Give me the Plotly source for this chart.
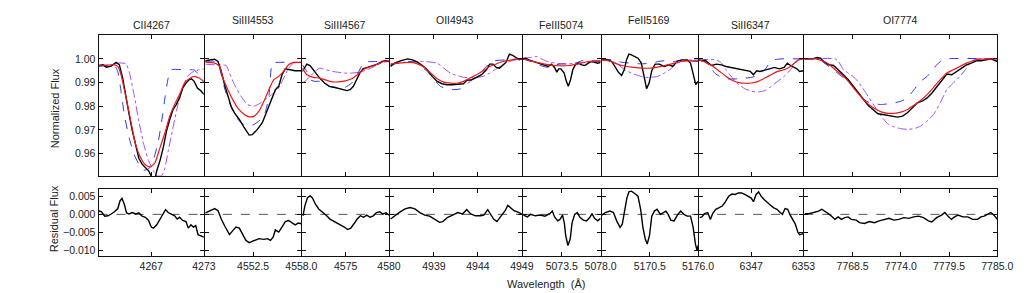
import plotly.graph_objects as go

# ---------------- data ----------------
panel_names = ["CII4267", "SiIII4553", "SiIII4567", "OII4943",
               "FeIII5074", "FeII5169", "SiII6347", "OI7774"]
x_ranges = [[4261, 4273], [4547, 4558], [4570, 4580], [4934, 4949],
            [5069, 5078], [5165, 5176], [6341, 6353], [7763, 7785]]
tick_vals = [[4261, 4267, 4273], [4547, 4552.5, 4558], [4570, 4575, 4580],
             [4934, 4939, 4944, 4949], [5069, 5073.5, 5078], [5165, 5170.5, 5176],
             [6341, 6347, 6353], [7763, 7768.5, 7774, 7779.5, 7785]]
tick_text = [["", "4267", "4273"], ["", "4552.5", "4558.0"], ["", "4575", "4580"],
             ["", "4939", "4944", "4949"], ["", "5073.5", "5078.0"], ["", "5170.5", "5176.0"],
             ["", "6347", "6353"], ["", "7768.5", "7774.0", "7779.5", "7785.0"]]
flux_ticks = [0.96, 0.97, 0.98, 0.99, 1.00]
flux_tick_text = ["0.96", "0.97", "0.98", "0.99", "1.00"]
resid_ticks = [-0.010, -0.005, 0.0, 0.005]
resid_tick_text = ["\u22120.010", "\u22120.005", "0.000", "0.005"]
flux_range = [0.9505, 1.0101]
resid_range = [-0.0115, 0.0070]

# --- CII4267 ---
CII4267_obs = [(4261.00, 0.9972), (4261.52, 0.9975), (4261.89, 0.9965), (4262.44, 0.9970), (4263.00, 0.9985),
               (4263.37, 0.9975), (4263.74, 0.9920), (4264.11, 0.9835), (4264.48, 0.9765), (4264.85, 0.9695),
               (4265.22, 0.9630), (4265.59, 0.9580), (4265.96, 0.9555), (4266.33, 0.9540), (4266.70, 0.9527),
               (4267.07, 0.9500), (4267.44, 0.9495), (4267.63, 0.9527), (4268.00, 0.9570), (4268.37, 0.9625),
               (4268.74, 0.9695), (4269.11, 0.9744), (4269.48, 0.9786), (4269.85, 0.9807), (4270.22, 0.9835),
               (4270.59, 0.9877), (4270.96, 0.9898), (4271.33, 0.9912), (4271.59, 0.9916), (4271.89, 0.9905),
               (4272.26, 0.9877), (4272.63, 0.9866), (4273.00, 0.9850)]
CII4267_fit = [(4261.00, 0.9972), (4262.81, 0.9975), (4263.19, 0.9968), (4263.56, 0.9933), (4264.11, 0.9840),
               (4264.67, 0.9737), (4265.22, 0.9639), (4265.78, 0.9583), (4266.33, 0.9552), (4266.89, 0.9543),
               (4267.44, 0.9562), (4268.00, 0.9625), (4268.56, 0.9688), (4269.11, 0.9758), (4269.67, 0.9807),
               (4270.22, 0.9849), (4270.78, 0.9898), (4271.33, 0.9916), (4271.89, 0.9926), (4272.44, 0.9919),
               (4273.00, 0.9905)]
CII4267_m1 = [(4261.00, 0.9968), (4262.81, 0.9972), (4263.19, 0.9947), (4263.56, 0.9863), (4263.93, 0.9765),
              (4264.48, 0.9667), (4265.04, 0.9597), (4265.59, 0.9555), (4266.15, 0.9530), (4266.70, 0.9535),
              (4267.26, 0.9575), (4267.81, 0.9653), (4268.19, 0.9737), (4268.56, 0.9835), (4268.93, 0.9919),
              (4269.30, 0.9954), (4270.78, 0.9954), (4271.89, 0.9953), (4272.44, 0.9933), (4273.00, 0.9898)]
CII4267_m2 = [(4261.00, 0.9972), (4262.63, 0.9975), (4263.00, 0.9982), (4264.11, 0.9980), (4264.48, 0.9947),
              (4265.04, 0.9849), (4265.59, 0.9737), (4266.15, 0.9639), (4266.70, 0.9569), (4267.26, 0.9527),
              (4267.63, 0.9506), (4268.19, 0.9506), (4268.56, 0.9540), (4268.93, 0.9610), (4269.48, 0.9709),
              (4270.04, 0.9807), (4270.59, 0.9877), (4271.11, 0.9926), (4271.70, 0.9944), (4272.44, 0.9954),
              (4273.00, 0.9958)]
CII4267_res = [(4261.00, 0.0010), (4261.33, 0.0007), (4261.70, -0.0005), (4262.07, -0.0004), (4262.44, 0.0001),
               (4262.81, 0.0007), (4263.19, 0.0016), (4263.44, 0.0037), (4263.67, 0.0044), (4263.93, 0.0028),
               (4264.19, 0.0004), (4264.48, 0.0001), (4264.85, 0.0005), (4265.22, 0.0001), (4265.59, 0.0004),
               (4265.96, -0.0005), (4266.33, -0.0008), (4266.70, -0.0017), (4267.00, -0.0035), (4267.26, -0.0038),
               (4267.63, -0.0029), (4268.00, -0.0013), (4268.37, 0.0004), (4268.63, 0.0013), (4268.93, 0.0005),
               (4269.30, 0.0001), (4269.67, -0.0004), (4269.96, -0.0013), (4270.22, -0.0008), (4270.59, -0.0017),
               (4270.96, -0.0020), (4271.22, -0.0038), (4271.52, -0.0029), (4271.81, -0.0035), (4272.07, -0.0031),
               (4272.33, -0.0056), (4272.63, -0.0060), (4273.00, -0.0063)]

# --- SiIII4553 ---
SiIII4553_obs = [(4547.07, 0.9992), (4547.56, 0.9994), (4548.12, 0.9999), (4548.50, 0.9989), (4548.87, 0.9947),
                 (4549.24, 0.9891), (4549.62, 0.9842), (4549.99, 0.9800), (4550.37, 0.9772), (4550.93, 0.9744),
                 (4551.49, 0.9709), (4552.05, 0.9678), (4552.42, 0.9680), (4552.99, 0.9702), (4553.55, 0.9730),
                 (4553.92, 0.9765), (4554.30, 0.9800), (4554.67, 0.9842), (4555.04, 0.9870), (4555.42, 0.9884),
                 (4555.79, 0.9933), (4556.17, 0.9958), (4556.73, 0.9954), (4557.29, 0.9950), (4558.00, 0.9950)]
SiIII4553_fit = [(4547.07, 0.9986), (4548.12, 0.9982), (4548.68, 0.9968), (4549.06, 0.9919), (4549.62, 0.9870),
                 (4550.18, 0.9828), (4550.74, 0.9793), (4551.49, 0.9765), (4552.05, 0.9755), (4552.61, 0.9758),
                 (4553.17, 0.9779), (4553.73, 0.9821), (4554.30, 0.9870), (4554.86, 0.9912), (4555.42, 0.9926),
                 (4555.98, 0.9947), (4556.54, 0.9975), (4557.10, 0.9985), (4558.00, 0.9985)]
SiIII4553_m1 = [(4547.07, 0.9990), (4548.31, 0.9989), (4548.68, 0.9960), (4549.24, 0.9877), (4549.81, 0.9814),
                (4550.37, 0.9765), (4551.12, 0.9730), (4551.86, 0.9716), (4552.61, 0.9723), (4553.36, 0.9744),
                (4553.92, 0.9779), (4554.30, 0.9842), (4554.67, 0.9982), (4555.04, 0.9985), (4558.00, 0.9985)]
SiIII4553_m2 = [(4547.07, 0.9978), (4548.12, 0.9975), (4549.43, 0.9972), (4549.81, 0.9940), (4550.37, 0.9891),
                (4551.12, 0.9842), (4551.86, 0.9807), (4552.61, 0.9800), (4553.36, 0.9814), (4554.11, 0.9835),
                (4554.86, 0.9856), (4555.42, 0.9877), (4555.98, 0.9919), (4556.54, 0.9960), (4557.10, 0.9982),
                (4558.00, 0.9986)]
SiIII4553_res = [(4547.07, 0.0004), (4547.56, 0.0010), (4548.12, 0.0016), (4548.50, 0.0010), (4548.87, -0.0013),
                 (4549.32, -0.0035), (4549.81, -0.0056), (4550.18, -0.0045), (4550.55, -0.0035), (4550.93, -0.0038),
                 (4551.30, -0.0054), (4551.68, -0.0072), (4552.05, -0.0078), (4552.61, -0.0072), (4553.17, -0.0067),
                 (4553.73, -0.0069), (4554.11, -0.0067), (4554.48, -0.0072), (4554.78, -0.0063), (4555.04, -0.0043),
                 (4555.42, -0.0049), (4555.79, -0.0035), (4556.17, -0.0020), (4556.54, -0.0017), (4556.91, -0.0024),
                 (4557.29, -0.0029), (4557.66, -0.0024), (4558.00, -0.0026)]

# --- SiIII4567 ---
SiIII4567_obs = [(4570.00, 0.9947), (4570.52, 0.9978), (4570.89, 0.9972), (4571.26, 0.9954), (4571.63, 0.9936),
                 (4572.00, 0.9919), (4572.56, 0.9898), (4573.11, 0.9884), (4573.67, 0.9880), (4574.22, 0.9874),
                 (4574.78, 0.9870), (4575.15, 0.9866), (4575.52, 0.9870), (4575.89, 0.9884), (4576.26, 0.9912),
                 (4576.63, 0.9940), (4577.00, 0.9958), (4577.56, 0.9964), (4578.11, 0.9972), (4578.67, 0.9978),
                 (4579.22, 0.9989), (4579.59, 0.9992), (4580.00, 0.9989)]
SiIII4567_fit = [(4570.00, 0.9961), (4570.52, 0.9933), (4571.26, 0.9922), (4572.00, 0.9919), (4572.74, 0.9910),
                 (4573.48, 0.9903), (4574.22, 0.9903), (4574.96, 0.9907), (4575.70, 0.9916), (4576.44, 0.9936),
                 (4577.19, 0.9958), (4577.93, 0.9968), (4578.67, 0.9978), (4579.41, 0.9989), (4580.00, 0.9992)]
SiIII4567_m1 = [(4570.00, 0.9975), (4570.52, 0.9947), (4570.89, 0.9912), (4571.44, 0.9905), (4572.00, 0.9905),
                (4572.74, 0.9890), (4573.48, 0.9880), (4574.22, 0.9877), (4574.96, 0.9880), (4575.70, 0.9898),
                (4576.26, 0.9926), (4576.81, 0.9968), (4577.19, 0.9986), (4578.30, 0.9989), (4580.00, 0.9989)]
SiIII4567_m2 = [(4570.00, 0.9898), (4570.52, 0.9912), (4571.26, 0.9940), (4572.00, 0.9961), (4572.74, 0.9954),
                (4573.48, 0.9947), (4574.22, 0.9943), (4574.96, 0.9940), (4575.70, 0.9940), (4576.44, 0.9943),
                (4577.19, 0.9950), (4577.93, 0.9961), (4578.67, 0.9975), (4579.41, 0.9986), (4580.00, 0.9989)]
SiIII4567_res = [(4570.07, -0.0004), (4570.30, 0.0024), (4570.59, 0.0046), (4570.89, 0.0051), (4571.15, 0.0046),
                 (4571.52, 0.0028), (4571.89, 0.0015), (4572.44, 0.0005), (4572.81, -0.0004), (4573.19, -0.0013),
                 (4573.74, -0.0020), (4574.30, -0.0029), (4574.85, -0.0035), (4575.22, -0.0042), (4575.59, -0.0038),
                 (4575.96, -0.0026), (4576.33, -0.0013), (4576.70, -0.0004), (4577.07, -0.0008), (4577.44, -0.0002),
                 (4577.81, -0.0008), (4578.19, -0.0004), (4578.56, 0.0005), (4578.93, 0.0007), (4579.30, 0.0001),
                 (4579.67, 0.0004), (4580.00, -0.0002)]

# --- OII4943 ---
OII4943_obs = [(4934.07, 0.9968), (4934.52, 0.9982), (4935.27, 0.9993), (4936.01, 1.0000), (4936.57, 0.9996),
               (4937.13, 0.9986), (4937.69, 0.9972), (4938.25, 0.9954), (4938.81, 0.9926), (4939.37, 0.9905),
               (4939.93, 0.9895), (4940.49, 0.9891), (4941.05, 0.9891), (4941.61, 0.9893), (4942.36, 0.9895),
               (4942.73, 0.9909), (4943.29, 0.9912), (4943.85, 0.9922), (4944.41, 0.9933), (4944.97, 0.9954),
               (4945.34, 0.9978), (4945.72, 0.9978), (4946.09, 0.9964), (4946.46, 0.9961), (4946.84, 0.9975),
               (4947.21, 0.9986), (4947.58, 1.0020), (4947.96, 1.0015), (4948.33, 1.0006), (4948.70, 0.9996),
               (4949.00, 1.0000)]
OII4943_fit = [(4934.07, 0.9978), (4934.90, 0.9982), (4936.39, 0.9985), (4937.13, 0.9979), (4937.88, 0.9965),
               (4938.63, 0.9940), (4939.37, 0.9916), (4940.12, 0.9902), (4940.87, 0.9898), (4941.61, 0.9897),
               (4942.36, 0.9905), (4943.10, 0.9919), (4943.85, 0.9933), (4944.60, 0.9950), (4945.34, 0.9968),
               (4946.09, 0.9979), (4946.84, 0.9989), (4947.58, 0.9994), (4948.33, 0.9999), (4949.00, 1.0000)]
OII4943_m1 = [(4934.07, 0.9975), (4934.90, 0.9982), (4936.01, 0.9989), (4936.76, 0.9986), (4937.51, 0.9968),
              (4938.25, 0.9947), (4939.00, 0.9912), (4939.75, 0.9884), (4940.49, 0.9873), (4941.24, 0.9870),
              (4941.99, 0.9873), (4942.54, 0.9884), (4943.10, 0.9905), (4943.85, 0.9926), (4944.60, 0.9954),
              (4945.34, 0.9982), (4945.90, 0.9992), (4947.21, 0.9996), (4949.00, 1.0000)]
OII4943_m2 = [(4934.07, 0.9978), (4934.90, 0.9982), (4936.39, 0.9989), (4937.88, 0.9989), (4939.37, 0.9982),
              (4940.12, 0.9961), (4940.87, 0.9940), (4941.61, 0.9930), (4942.36, 0.9922), (4943.85, 0.9922),
              (4944.60, 0.9926), (4945.34, 0.9940), (4946.09, 0.9958), (4946.84, 0.9975), (4947.58, 0.9989),
              (4948.33, 0.9996), (4949.00, 1.0000)]
OII4943_res = [(4934.07, -0.0013), (4934.60, -0.0002), (4935.16, 0.0007), (4935.72, 0.0015), (4936.28, 0.0019),
               (4936.84, 0.0015), (4937.40, 0.0005), (4937.96, -0.0002), (4938.51, -0.0005), (4939.07, -0.0013),
               (4939.63, -0.0022), (4940.01, -0.0020), (4940.57, -0.0008), (4941.13, -0.0002), (4941.69, 0.0005),
               (4942.25, 0.0001), (4942.73, 0.0013), (4943.18, 0.0001), (4943.74, -0.0004), (4944.30, -0.0004),
               (4944.67, -0.0002), (4945.12, 0.0013), (4945.42, 0.0001), (4945.79, -0.0013), (4946.16, -0.0020),
               (4946.61, -0.0005), (4947.10, 0.0010), (4947.40, 0.0025), (4947.73, 0.0019), (4948.10, 0.0010),
               (4948.48, 0.0007), (4949.00, 0.0001)]

# --- FeIII5074 ---
FeIII5074_obs = [(5069.00, 1.0000), (5069.33, 1.0003), (5069.70, 0.9996), (5070.26, 0.9989), (5070.81, 0.9982),
                 (5071.37, 0.9975), (5071.93, 0.9968), (5072.30, 0.9978), (5072.67, 0.9964), (5072.93, 0.9944),
                 (5073.15, 0.9958), (5073.41, 0.9958), (5073.78, 0.9940), (5074.04, 0.9905), (5074.26, 0.9884),
                 (5074.52, 0.9912), (5074.78, 0.9954), (5075.07, 0.9975), (5075.44, 0.9982), (5075.81, 0.9975),
                 (5076.19, 0.9972), (5076.56, 0.9982), (5076.93, 0.9989), (5077.30, 0.9986), (5077.67, 0.9982),
                 (5078.00, 0.9985)]
FeIII5074_fit = [(5069.00, 1.0000), (5069.89, 0.9992), (5071.00, 0.9982), (5072.11, 0.9975), (5073.22, 0.9971),
                 (5074.33, 0.9972), (5075.44, 0.9979), (5076.56, 0.9989), (5078.00, 0.9992)]
FeIII5074_m1 = [(5069.00, 1.0000), (5069.89, 0.9989), (5070.63, 0.9978), (5071.37, 0.9968), (5072.11, 0.9964),
                (5072.85, 0.9975), (5073.59, 0.9979), (5074.33, 0.9978), (5075.07, 0.9982), (5075.81, 0.9992),
                (5076.56, 0.9996), (5077.30, 0.9992), (5078.00, 0.9989)]
FeIII5074_m2 = [(5069.00, 1.0003), (5069.89, 1.0006), (5070.63, 1.0010), (5071.37, 0.9996), (5072.11, 0.9986),
                (5072.85, 0.9982), (5073.59, 0.9979), (5074.33, 0.9979), (5075.07, 0.9982), (5075.81, 0.9985),
                (5076.56, 0.9989), (5077.30, 0.9992), (5078.00, 0.9992)]
FeIII5074_res = [(5069.07, -0.0002), (5069.52, -0.0007), (5069.89, 0.0000), (5070.44, -0.0004), (5071.00, -0.0002),
                 (5071.56, -0.0005), (5072.11, 0.0002), (5072.41, 0.0009), (5072.67, -0.0007), (5073.04, -0.0018),
                 (5073.30, -0.0014), (5073.59, -0.0002), (5073.81, -0.0025), (5073.96, -0.0059), (5074.22, -0.0086),
                 (5074.48, -0.0068), (5074.70, -0.0023), (5075.00, 0.0000), (5075.30, 0.0005), (5075.63, -0.0009),
                 (5076.00, -0.0016), (5076.37, -0.0018), (5076.74, -0.0009), (5077.00, 0.0002), (5077.30, -0.0011),
                 (5077.67, -0.0018), (5078.00, -0.0011)]

# --- FeII5169 ---
FeII5169_obs = [(5165.04, 0.9996), (5165.60, 0.9996), (5166.16, 0.9989), (5166.53, 0.9968), (5166.91, 0.9944),
                (5167.28, 0.9930), (5167.58, 0.9954), (5167.84, 0.9996), (5168.11, 1.0020), (5168.40, 1.0017),
                (5168.78, 1.0010), (5169.15, 1.0003), (5169.53, 0.9982), (5169.83, 0.9919), (5170.13, 0.9874),
                (5170.42, 0.9898), (5170.72, 0.9950), (5171.10, 0.9978), (5171.58, 0.9978), (5172.15, 0.9968),
                (5172.71, 0.9975), (5173.08, 0.9968), (5173.46, 0.9982), (5173.72, 0.9992), (5174.20, 0.9996),
                (5174.76, 0.9996), (5175.14, 0.9982), (5175.44, 0.9940), (5175.74, 0.9891), (5176.00, 0.9905)]
FeII5169_fit = [(5165.04, 0.9996), (5165.79, 0.9992), (5166.53, 0.9982), (5167.28, 0.9972), (5168.40, 0.9965),
                (5169.53, 0.9961), (5170.65, 0.9961), (5171.77, 0.9968), (5172.89, 0.9978), (5174.02, 0.9989),
                (5175.14, 0.9992), (5176.00, 0.9989)]
FeII5169_m1 = [(5165.04, 1.0000), (5166.16, 0.9996), (5167.28, 0.9986), (5168.40, 0.9982), (5169.53, 0.9979),
               (5170.65, 0.9982), (5171.40, 0.9989), (5172.15, 0.9992), (5172.89, 0.9986), (5173.64, 0.9992),
               (5174.39, 0.9996), (5175.14, 0.9992), (5176.00, 0.9992)]
FeII5169_m2 = [(5165.04, 1.0000), (5166.16, 0.9992), (5166.91, 0.9975), (5167.66, 0.9954), (5168.40, 0.9940),
               (5169.15, 0.9930), (5169.90, 0.9922), (5170.65, 0.9922), (5171.40, 0.9926), (5172.15, 0.9940),
               (5172.89, 0.9958), (5173.64, 0.9982), (5174.39, 0.9992), (5175.14, 0.9996), (5176.00, 1.0000)]
FeII5169_res = [(5165.04, -0.0002), (5165.41, 0.0005), (5165.97, 0.0009), (5166.35, 0.0005), (5166.72, -0.0018),
                (5167.10, -0.0036), (5167.36, -0.0027), (5167.66, 0.0014), (5167.88, 0.0045), (5168.11, 0.0062),
                (5168.40, 0.0064), (5168.70, 0.0059), (5169.15, 0.0050), (5169.45, 0.0014), (5169.71, -0.0036),
                (5169.98, -0.0068), (5170.20, -0.0082), (5170.46, -0.0059), (5170.72, -0.0005), (5171.02, 0.0009),
                (5171.32, 0.0014), (5171.70, 0.0000), (5172.07, 0.0005), (5172.33, 0.0009), (5172.59, 0.0000),
                (5172.89, -0.0016), (5173.27, -0.0018), (5173.64, -0.0002), (5174.01, 0.0009), (5174.39, 0.0000),
                (5174.76, -0.0005), (5175.14, -0.0005), (5175.44, -0.0036), (5175.70, -0.0082), (5175.89, -0.0100),
                (5176.00, -0.0086)]

# --- SiII6347 ---
SiII6347_obs = [(6341.00, 0.9996), (6341.33, 0.9992), (6341.70, 0.9994), (6342.07, 0.9982), (6342.44, 0.9972),
                (6343.00, 0.9978), (6343.56, 0.9975), (6344.11, 0.9968), (6344.67, 0.9964), (6345.22, 0.9958),
                (6345.78, 0.9954), (6346.33, 0.9950), (6346.89, 0.9947), (6347.26, 0.9933), (6347.63, 0.9950),
                (6348.00, 0.9947), (6348.56, 0.9954), (6349.11, 0.9958), (6349.67, 0.9964), (6350.22, 0.9958),
                (6350.78, 0.9964), (6351.15, 0.9982), (6351.52, 0.9972), (6351.89, 0.9964), (6352.26, 0.9958),
                (6352.56, 0.9947), (6353.00, 0.9950)]
SiII6347_fit = [(6341.00, 0.9996), (6341.52, 0.9989), (6342.07, 0.9978), (6342.63, 0.9968), (6343.37, 0.9947),
                (6344.11, 0.9926), (6344.85, 0.9909), (6345.59, 0.9900), (6346.33, 0.9897), (6347.07, 0.9898),
                (6347.81, 0.9905), (6348.56, 0.9919), (6349.30, 0.9933), (6350.04, 0.9947), (6350.78, 0.9954),
                (6351.52, 0.9968), (6352.07, 0.9986), (6352.44, 0.9996), (6353.00, 1.0000)]
SiII6347_m1 = [(6341.00, 0.9996), (6341.70, 0.9989), (6342.26, 0.9968), (6342.81, 0.9940), (6343.37, 0.9926),
               (6344.11, 0.9916), (6344.85, 0.9915), (6345.59, 0.9916), (6346.33, 0.9919), (6347.07, 0.9922),
               (6347.81, 0.9933), (6348.56, 0.9954), (6349.11, 0.9982), (6349.67, 0.9996), (6350.41, 1.0000),
               (6353.00, 1.0000)]
SiII6347_m2 = [(6341.00, 0.9996), (6343.00, 0.9996), (6343.56, 0.9982), (6344.11, 0.9954), (6344.85, 0.9919),
               (6345.59, 0.9890), (6346.33, 0.9873), (6347.07, 0.9863), (6347.81, 0.9860), (6348.56, 0.9866),
               (6349.30, 0.9884), (6350.04, 0.9905), (6350.78, 0.9926), (6351.52, 0.9954), (6352.07, 0.9982),
               (6352.44, 0.9996), (6353.00, 1.0000)]
SiII6347_res = [(6341.07, -0.0009), (6341.33, -0.0007), (6341.63, 0.0002), (6342.00, 0.0005), (6342.30, -0.0014),
                (6342.56, 0.0002), (6342.93, 0.0014), (6343.30, 0.0018), (6343.67, 0.0023), (6344.04, 0.0035),
                (6344.41, 0.0050), (6344.78, 0.0056), (6345.15, 0.0055), (6345.52, 0.0059), (6345.89, 0.0059),
                (6346.26, 0.0055), (6346.63, 0.0050), (6347.00, 0.0045), (6347.26, 0.0035), (6347.56, 0.0055),
                (6347.85, 0.0062), (6348.15, 0.0050), (6348.48, 0.0041), (6348.85, 0.0032), (6349.22, 0.0025),
                (6349.59, 0.0018), (6349.96, 0.0014), (6350.33, 0.0005), (6350.59, 0.0000), (6350.89, 0.0016),
                (6351.19, 0.0014), (6351.44, 0.0000), (6351.81, -0.0018), (6352.07, -0.0027), (6352.37, -0.0050),
                (6352.56, -0.0056), (6353.00, -0.0053)]

# --- OI7774 ---
OI7774_obs = [(7763.00, 1.0000), (7763.90, 1.0000), (7764.46, 1.0006), (7764.83, 1.0003), (7765.21, 0.9989),
              (7765.77, 0.9975), (7766.33, 0.9972), (7766.89, 0.9954), (7767.45, 0.9933), (7768.01, 0.9912),
              (7768.57, 0.9884), (7769.14, 0.9856), (7769.70, 0.9828), (7770.26, 0.9804), (7770.82, 0.9786),
              (7771.38, 0.9768), (7771.94, 0.9765), (7772.50, 0.9761), (7773.06, 0.9758), (7773.62, 0.9754),
              (7774.19, 0.9758), (7774.75, 0.9772), (7775.31, 0.9793), (7775.87, 0.9814), (7776.43, 0.9821),
              (7776.99, 0.9835), (7777.55, 0.9856), (7778.11, 0.9884), (7778.68, 0.9912), (7779.24, 0.9936),
              (7779.80, 0.9933), (7780.36, 0.9947), (7780.92, 0.9961), (7781.48, 0.9975), (7782.04, 0.9982),
              (7782.60, 0.9992), (7783.16, 0.9992), (7783.73, 0.9996), (7784.29, 1.0000), (7785.00, 0.9989)]
OI7774_fit = [(7763.00, 1.0000), (7764.27, 1.0000), (7765.02, 0.9992), (7765.77, 0.9978), (7766.52, 0.9954),
              (7767.26, 0.9933), (7768.01, 0.9905), (7768.76, 0.9870), (7769.51, 0.9838), (7770.26, 0.9810),
              (7771.01, 0.9790), (7771.76, 0.9776), (7772.50, 0.9770), (7773.25, 0.9770), (7774.00, 0.9775),
              (7774.75, 0.9786), (7775.50, 0.9804), (7776.25, 0.9824), (7776.99, 0.9849), (7777.74, 0.9880),
              (7778.49, 0.9912), (7779.24, 0.9940), (7779.98, 0.9954), (7780.73, 0.9968), (7781.48, 0.9982),
              (7782.23, 0.9992), (7782.98, 0.9999), (7785.00, 1.0000)]
OI7774_m1 = [(7763.00, 1.0000), (7764.27, 1.0000), (7765.02, 0.9989), (7765.77, 0.9968), (7766.52, 0.9947),
             (7767.26, 0.9926), (7768.01, 0.9905), (7768.76, 0.9870), (7769.51, 0.9835), (7770.26, 0.9818),
             (7771.01, 0.9810), (7771.76, 0.9807), (7772.50, 0.9810), (7773.25, 0.9814), (7774.00, 0.9821),
             (7774.75, 0.9835), (7775.50, 0.9870), (7776.25, 0.9905), (7776.99, 0.9926), (7777.74, 0.9960),
             (7778.49, 0.9989), (7779.24, 1.0000), (7785.00, 1.0000)]
OI7774_m2 = [(7763.00, 1.0000), (7766.52, 1.0000), (7766.89, 0.9989), (7767.45, 0.9954), (7768.01, 0.9940),
             (7768.76, 0.9919), (7769.51, 0.9884), (7770.26, 0.9842), (7771.01, 0.9800), (7771.76, 0.9758),
             (7772.50, 0.9726), (7773.25, 0.9712), (7774.00, 0.9705), (7774.75, 0.9702), (7775.50, 0.9705),
             (7776.25, 0.9716), (7776.99, 0.9737), (7777.74, 0.9765), (7778.49, 0.9814), (7779.24, 0.9870),
             (7779.98, 0.9898), (7780.73, 0.9926), (7781.48, 0.9960), (7782.04, 0.9989), (7782.60, 0.9999),
             (7785.00, 1.0000)]
OI7774_res = [(7763.04, 0.0002), (7763.49, 0.0002), (7764.05, 0.0005), (7764.61, 0.0009), (7764.98, 0.0014),
              (7765.36, 0.0009), (7765.73, 0.0002), (7766.11, -0.0005), (7766.48, -0.0014), (7766.85, -0.0007),
              (7767.23, -0.0014), (7767.60, -0.0009), (7767.98, -0.0007), (7768.35, -0.0014), (7768.91, -0.0016),
              (7769.29, -0.0023), (7769.85, -0.0025), (7770.41, -0.0020), (7770.97, -0.0023), (7771.53, -0.0018),
              (7772.09, -0.0014), (7772.65, -0.0011), (7773.21, -0.0016), (7773.77, -0.0014), (7774.34, -0.0009),
              (7774.90, -0.0011), (7775.46, -0.0007), (7776.02, -0.0005), (7776.58, -0.0009), (7777.14, -0.0018),
              (7777.52, -0.0021), (7778.08, -0.0009), (7778.64, -0.0002), (7779.01, 0.0005), (7779.39, -0.0005),
              (7779.76, -0.0014), (7780.13, -0.0007), (7780.51, -0.0002), (7781.07, -0.0007), (7781.63, -0.0007),
              (7782.19, -0.0014), (7782.75, -0.0014), (7783.13, -0.0007), (7783.50, -0.0005), (7783.87, 0.0000),
              (7784.25, 0.0005), (7784.62, -0.0002), (7785.00, -0.0014)]

observed = [CII4267_obs, SiIII4553_obs, SiIII4567_obs, OII4943_obs,
            FeIII5074_obs, FeII5169_obs, SiII6347_obs, OI7774_obs]
best_fit = [CII4267_fit, SiIII4553_fit, SiIII4567_fit, OII4943_fit,
            FeIII5074_fit, FeII5169_fit, SiII6347_fit, OI7774_fit]
model_a = [CII4267_m1, SiIII4553_m1, SiIII4567_m1, OII4943_m1,
           FeIII5074_m1, FeII5169_m1, SiII6347_m1, OI7774_m1]
model_b = [CII4267_m2, SiIII4553_m2, SiIII4567_m2, OII4943_m2,
           FeIII5074_m2, FeII5169_m2, SiII6347_m2, OI7774_m2]
residuals = [CII4267_res, SiIII4553_res, SiIII4567_res, OII4943_res,
             FeIII5074_res, FeII5169_res, SiII6347_res, OI7774_res]

# ---------------- layout ----------------
W, H = 1026, 293
LEFT_PX, RIGHT_PX = 92, 1005
TOP_ROW = [1 - 168 / H, 1 - 27 / H]
BOT_ROW = [1 - 248 / H, 1 - 181 / H]
FONT = "Liberation Sans, Arial, sans-serif"
TXT = "#222222"

spans = [r[1] - r[0] for r in x_ranges]
px_per = (RIGHT_PX - LEFT_PX) / sum(spans)
edges = [LEFT_PX]
acc = 0
for s in spans:
    acc += s
    edges.append(round(LEFT_PX + acc * px_per))

fig = go.Figure()
layout = dict(width=W, height=H, autosize=False,
              margin=dict(l=0, r=0, t=0, b=0),
              paper_bgcolor="white", plot_bgcolor="white",
              showlegend=False, font=dict(family=FONT, size=10, color=TXT))

def axis_common():
    return dict(showgrid=False, zeroline=False, showline=True, mirror="ticks",
                linecolor="#111111", linewidth=1, ticks="inside", ticklen=4,
                tickcolor="#111111", tickwidth=1,
                tickfont=dict(family=FONT, size=10.5, color=TXT))

def xy(pairs):
    return [p[0] for p in pairs], [p[1] for p in pairs]

for i in range(8):
    # shift each panel after the first by one pixel so neighbouring frame lines coincide
    dom = [(edges[i] + (1 if i > 0 else 0)) / W, edges[i + 1] / W]
    top, bot = i + 1, i + 9
    tx = "x" if top == 1 else f"x{top}"
    ty = "y" if top == 1 else f"y{top}"
    bx, by = f"x{bot}", f"y{bot}"

    xa = axis_common()
    xa.update(domain=dom, range=x_ranges[i], tickmode="array",
              tickvals=tick_vals[i], ticktext=tick_text[i], showticklabels=False, anchor=ty)
    layout["xaxis" if top == 1 else f"xaxis{top}"] = xa
    ya = axis_common()
    ya.update(domain=TOP_ROW, range=flux_range, tickmode="array", tickvals=flux_ticks,
              ticktext=flux_tick_text, showticklabels=(i == 0), anchor=tx)
    layout["yaxis" if top == 1 else f"yaxis{top}"] = ya

    xb = axis_common()
    xb.update(domain=dom, range=x_ranges[i], tickmode="array",
              tickvals=tick_vals[i], ticktext=tick_text[i], showticklabels=True, anchor=by)
    layout[f"xaxis{bot}"] = xb
    yb = axis_common()
    yb.update(domain=BOT_ROW, range=resid_range, tickmode="array", tickvals=resid_ticks,
              ticktext=resid_tick_text, showticklabels=(i == 0), anchor=bx)
    layout[f"yaxis{bot}"] = yb

    x, y = xy(model_b[i])
    fig.add_trace(go.Scatter(x=x, y=y, xaxis=tx, yaxis=ty, mode="lines",
                             line=dict(color="#a04cf5", width=1, dash="dashdot", shape="spline", smoothing=0.5)))
    x, y = xy(model_a[i])
    fig.add_trace(go.Scatter(x=x, y=y, xaxis=tx, yaxis=ty, mode="lines",
                             line=dict(color="#2a35f0", width=1, dash="dash", shape="spline", smoothing=0.5)))
    x, y = xy(observed[i])
    fig.add_trace(go.Scatter(x=x, y=y, xaxis=tx, yaxis=ty, mode="lines",
                             line=dict(color="black", width=1.4)))
    x, y = xy(best_fit[i])
    fig.add_trace(go.Scatter(x=x, y=y, xaxis=tx, yaxis=ty, mode="lines",
                             line=dict(color="#f01818", width=1.2, shape="spline", smoothing=0.5)))

    fig.add_trace(go.Scatter(x=x_ranges[i], y=[0, 0], xaxis=bx, yaxis=by, mode="lines",
                             line=dict(color="#555555", width=1, dash="dash")))
    x, y = xy(residuals[i])
    fig.add_trace(go.Scatter(x=x, y=y, xaxis=bx, yaxis=by, mode="lines",
                             line=dict(color="black", width=1.4)))

# panel titles (alternating heights as in the original)
title_y = [17, 12, 17, 12, 17, 12, 17, 12]
annotations = []
for i, name in enumerate(panel_names):
    annotations.append(dict(text=name, xref="paper", yref="paper",
                            x=(edges[i] + edges[i + 1]) / 2 / W, y=1 - title_y[i] / H,
                            xanchor="center", yanchor="middle", showarrow=False,
                            font=dict(family=FONT, size=10.5, color=TXT)))
annotations.append(dict(text="Normalized Flux", xref="paper", yref="paper",
                        x=48 / W, y=1 - 100 / H, textangle=-90, showarrow=False,
                        xanchor="center", yanchor="middle",
                        font=dict(family=FONT, size=11, color=TXT)))
annotations.append(dict(text="Residual Flux", xref="paper", yref="paper",
                        x=47 / W, y=1 - 211 / H, textangle=-90, showarrow=False,
                        xanchor="center", yanchor="middle",
                        font=dict(family=FONT, size=11, color=TXT)))
annotations.append(dict(text="Wavelength  (Å)", xref="paper", yref="paper",
                        x=547 / W, y=1 - 275.5 / H, showarrow=False,
                        xanchor="center", yanchor="middle",
                        font=dict(family=FONT, size=11, color=TXT)))
layout["annotations"] = annotations

fig.update_layout(**layout)
fig.write_html("out.html")
